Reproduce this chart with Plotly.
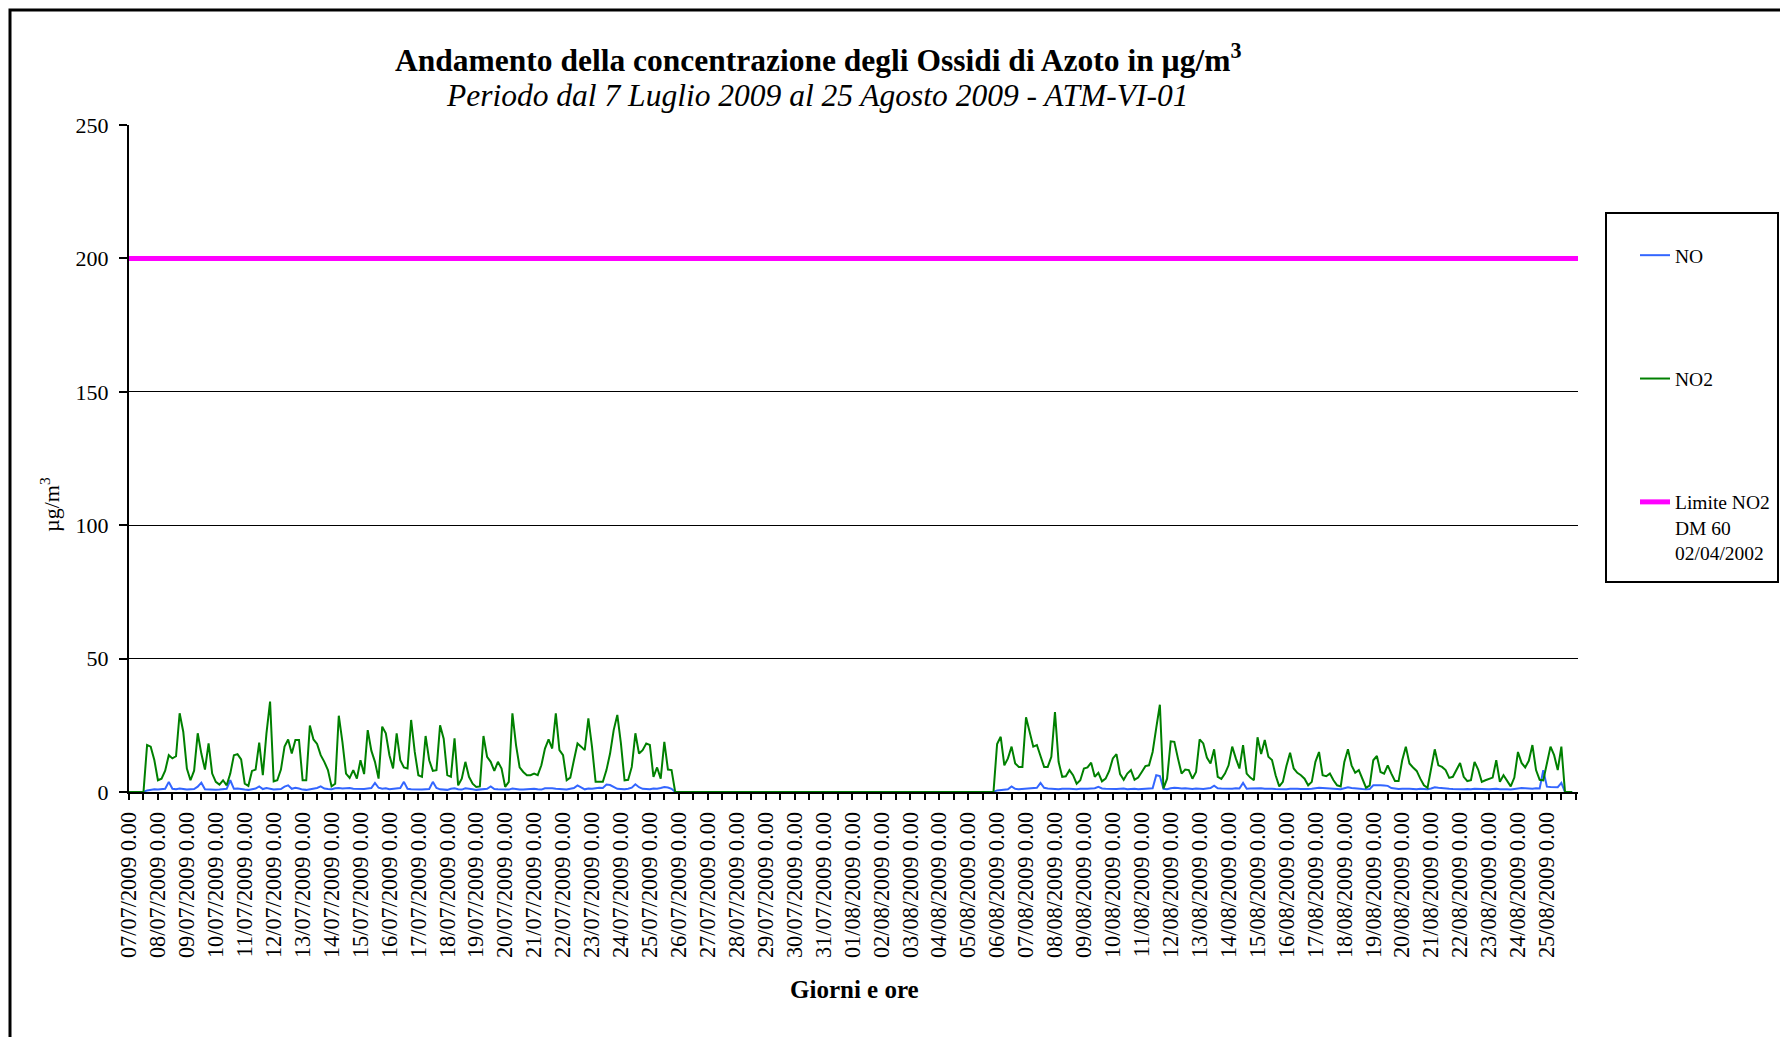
import pandas as pd
import plotly.graph_objects as go

# ---------------- data (µg/m3), one value every 3 hours from 07/07/2009 00:00 ----------------
START = "2009-07-07 00:00"
STEP = "3h"

# NO2: one row per day, 8 readings (00,03,06,09,12,15,18,21)
no2_ugm3 = [
    0, 0, 0, 0, 0, 17.6, 17, 12,            # 07/07
    4.4, 5, 8, 13.8, 12.6, 13.4, 29.5, 22.6,  # 08/07
    8.8, 4.4, 8, 22, 14.4, 8.4, 18.2, 6.9,    # 09/07
    3.8, 2.8, 4.4, 2.5, 6.9, 13.8, 14.2, 12.2,  # 10/07
    3.1, 2.3, 7.9, 8.4, 18.5, 6.3, 22, 33.9,  # 11/07
    4, 4.4, 8.4, 17, 19.7, 14.4, 19.5, 19.5,  # 12/07
    4.4, 4.4, 24.9, 19.7, 18, 13.8, 11.3, 8.2,  # 13/07
    2.1, 3.1, 28.6, 18.8, 6.9, 5.3, 8.2, 5,   # 14/07
    11.9, 6.7, 23.2, 15.5, 11.3, 5, 24.5, 22,  # 15/07
    13.8, 8.8, 22, 11.9, 9.2, 8.8, 27, 15,    # 16/07
    6.3, 5.7, 21, 11.9, 7.9, 8.2, 25, 20,     # 17/07
    6.3, 5.7, 20.1, 2.5, 5, 11.3, 5.7, 3.1,   # 18/07
    1.9, 2.1, 21, 13.2, 11.3, 7.9, 11.3, 8.8,  # 19/07
    1.9, 3.8, 29.5, 17.6, 9.2, 7.5, 6.3, 6.3,  # 20/07
    6.9, 6.3, 10, 16.3, 19.7, 16.3, 29.5, 15.7,  # 21/07
    13.8, 4.4, 5.4, 11.9, 18.2, 17, 15.7, 27.6,  # 22/07
    17, 3.8, 3.8, 3.8, 8.2, 14.4, 23.2, 28.9,  # 23/07
    18.2, 4.4, 4.6, 9.4, 22, 14.4, 15.7, 18.2,  # 24/07
    17.6, 5.7, 9.2, 5, 18.8, 8.4, 8.2, 0,     # 25/07
    0, 0, 0, 0, 0, 0, 0, 0,                   # 26/07
    0, 0, 0, 0, 0, 0, 0, 0,                   # 27/07
    0, 0, 0, 0, 0, 0, 0, 0,                   # 28/07
    0, 0, 0, 0, 0, 0, 0, 0,                   # 29/07
    0, 0, 0, 0, 0, 0, 0, 0,                   # 30/07
    0, 0, 0, 0, 0, 0, 0, 0,                   # 31/07
    0, 0, 0, 0, 0, 0, 0, 0,                   # 01/08
    0, 0, 0, 0, 0, 0, 0, 0,                   # 02/08
    0, 0, 0, 0, 0, 0, 0, 0,                   # 03/08
    0, 0, 0, 0, 0, 0, 0, 0,                   # 04/08
    0, 0, 0, 0, 0, 0, 0, 0,                   # 05/08
    18, 20.7, 10, 12.6, 17, 10.7, 9.4, 9.4,   # 06/08
    28, 22.6, 17, 17.6, 13.8, 9.4, 9.4, 13.2,  # 07/08
    30, 11.3, 5.7, 5.9, 8.2, 6.3, 3.1, 4.4,   # 08/08
    8.8, 9.2, 11, 5.7, 7.2, 4, 5, 7.9,        # 09/08
    12.6, 14.2, 6.7, 4.6, 6.9, 8.2, 4.6, 5.4,  # 10/08
    7.5, 9.7, 10, 15, 24, 32.7, 1.3, 5,       # 11/08
    19, 18.8, 12.6, 6.9, 8.4, 8.2, 5, 7.5,    # 12/08
    19.7, 18.2, 12.9, 10.7, 16, 5.7, 4.9, 6.9,  # 13/08
    10, 17, 12.6, 8.8, 17.6, 6.9, 5.4, 4.4,   # 14/08
    20.5, 14.2, 19.5, 13.2, 12, 6.3, 2.1, 3.8,  # 15/08
    9.8, 14.7, 8.8, 7.2, 6.3, 5, 2.5, 3.8,    # 16/08
    11.3, 15, 6.3, 5.9, 6.9, 4.4, 2.5, 2.1,   # 17/08
    11.3, 16, 10, 7.2, 8.2, 4.6, 1.6, 2.4,    # 18/08
    11.9, 13.5, 7.5, 6.9, 10, 6.9, 4.1, 4.1,  # 19/08
    11.9, 17, 10.7, 9.2, 7.9, 5, 2.5, 1.6,    # 20/08
    9.4, 16, 10, 9.4, 8.2, 5.3, 5.7, 8.2,     # 21/08
    10.9, 5.7, 4.1, 4.4, 11.3, 8.4, 3.8, 4.4,  # 22/08
    5, 5.4, 11.9, 3.8, 6.3, 4.1, 2.1, 5.4,    # 23/08
    15, 10.9, 9.2, 11.7, 17.6, 8.2, 4.6, 4.4,  # 24/08
    11, 17, 13.8, 8.2, 17, 0, 0, 0,           # 25/08
]

# NO: same sampling
no_ugm3 = [
    0, 0, 0, 0, 0, 0.6, 0.8, 1.0,             # 07/07
    0.9, 1.0, 1.2, 3.8, 1.2, 1.0, 1.3, 1.1,   # 08/07
    0.9, 1.0, 1.1, 2.0, 3.5, 1.0, 0.9, 1.0,   # 09/07
    0.8, 0.9, 1.0, 1.2, 4.4, 1.2, 1.3, 1.0,   # 10/07
    0.9, 0.8, 1.1, 1.3, 2.1, 1.1, 1.5, 1.2,   # 11/07
    0.9, 1.0, 1.1, 2.0, 2.5, 1.2, 1.6, 1.3,   # 12/07
    0.9, 0.8, 1.0, 1.2, 1.5, 2.1, 1.3, 1.1,   # 13/07
    1.0, 1.4, 1.5, 1.3, 1.4, 1.5, 1.2, 1.1,   # 14/07
    1.0, 1.1, 1.3, 1.5, 3.4, 1.6, 1.2, 1.4,   # 15/07
    1.0, 1.2, 1.3, 1.5, 3.8, 1.2, 1.0, 0.9,   # 16/07
    0.8, 0.9, 1.0, 1.1, 3.8, 1.5, 1.0, 0.9,   # 17/07
    0.8, 1.2, 1.4, 1.0, 0.9, 1.4, 1.3, 1.0,   # 18/07
    0.8, 0.9, 1.0, 1.2, 2.1, 1.1, 1.0, 0.9,   # 19/07
    0.8, 0.9, 1.3, 1.0, 0.9, 0.9, 1.0, 1.1,   # 20/07
    1.2, 1.0, 0.9, 1.4, 1.5, 1.4, 1.2, 1.1,   # 21/07
    1.0, 0.9, 1.2, 1.5, 2.5, 1.8, 1.0, 1.3,   # 22/07
    1.2, 1.4, 1.6, 1.5, 2.8, 2.6, 1.8, 1.2,   # 23/07
    1.1, 1.0, 1.2, 1.6, 2.9, 1.8, 1.2, 1.1,   # 24/07
    1.0, 1.3, 1.2, 1.5, 1.9, 1.7, 1.2, 0,     # 25/07
    0, 0, 0, 0, 0, 0, 0, 0,                   # 26/07
    0, 0, 0, 0, 0, 0, 0, 0,                   # 27/07
    0, 0, 0, 0, 0, 0, 0, 0,                   # 28/07
    0, 0, 0, 0, 0, 0, 0, 0,                   # 29/07
    0, 0, 0, 0, 0, 0, 0, 0,                   # 30/07
    0, 0, 0, 0, 0, 0, 0, 0,                   # 31/07
    0, 0, 0, 0, 0, 0, 0, 0,                   # 01/08
    0, 0, 0, 0, 0, 0, 0, 0,                   # 02/08
    0, 0, 0, 0, 0, 0, 0, 0,                   # 03/08
    0, 0, 0, 0, 0, 0, 0, 0,                   # 04/08
    0, 0, 0, 0, 0, 0, 0, 0,                   # 05/08
    0.6, 0.8, 0.9, 1.0, 2.1, 1.2, 1.0, 1.1,   # 06/08
    1.2, 1.3, 1.4, 1.6, 3.4, 1.6, 1.3, 1.2,   # 07/08
    1.1, 1.0, 1.2, 1.3, 1.2, 1.1, 1.0, 1.2,   # 08/08
    1.1, 1.2, 1.3, 1.4, 1.9, 1.3, 1.2, 1.1,   # 09/08
    1.0, 1.1, 1.2, 1.3, 1.0, 1.1, 1.2, 1.0,   # 10/08
    1.1, 1.2, 1.3, 1.4, 6.3, 6.0, 1.2, 1.0,   # 11/08
    1.4, 1.6, 1.5, 1.3, 1.4, 1.2, 1.1, 1.3,   # 12/08
    1.2, 1.1, 1.3, 1.5, 2.4, 1.4, 1.3, 1.2,   # 13/08
    1.1, 1.2, 1.4, 1.3, 3.4, 1.2, 1.3, 1.4,   # 14/08
    1.5, 1.4, 1.2, 1.3, 1.2, 1.1, 1.0, 1.1,   # 15/08
    1.0, 1.2, 1.3, 1.2, 1.1, 1.0, 1.1, 1.2,   # 16/08
    1.5, 1.6, 1.5, 1.4, 1.5, 1.2, 1.1, 1.0,   # 17/08
    1.4, 1.8, 1.5, 1.3, 1.2, 1.1, 1.0, 1.1,   # 18/08
    2.5, 2.6, 2.5, 2.4, 2.3, 1.5, 1.2, 1.1,   # 19/08
    1.2, 1.3, 1.2, 1.1, 1.0, 1.2, 1.1, 1.0,   # 20/08
    1.3, 1.8, 1.6, 1.4, 1.3, 1.2, 1.1, 1.0,   # 21/08
    1.1, 1.0, 1.1, 1.0, 1.2, 1.1, 1.0, 1.1,   # 22/08
    1.0, 1.1, 1.2, 1.0, 1.1, 1.0, 0.9, 1.1,   # 23/08
    1.4, 1.5, 1.4, 1.3, 1.2, 1.4, 1.3, 8.2,   # 24/08
    2.0, 1.9, 1.9, 1.8, 3.4, 0, 0, 0,         # 25/08
]

limite_no2 = 200  # DM 60 02/04/2002

series_names = ["NO", "NO2", "Limite NO2<br>DM 60<br>02/04/2002"]
y_ticks = [0, 50, 100, 150, 200, 250]
day_ticks = pd.date_range("2009-07-07", "2009-08-25", freq="D")
day_labels = [d.strftime("%d/%m/%Y") + " 0.00" for d in day_ticks]

# ---------------- figure ----------------
times = pd.date_range(START, periods=len(no2_ugm3), freq=STEP)
X_END = "2009-08-26 01:48"
FONT = "Liberation Serif, Times New Roman, serif"

fig = go.Figure()
fig.add_trace(go.Scatter(x=times, y=no_ugm3, mode="lines", name=series_names[0],
                         legendgroup="g1", line=dict(color="#3366FF", width=2)))
fig.add_trace(go.Scatter(x=times, y=no2_ugm3, mode="lines", name=series_names[1],
                         legendgroup="g2", line=dict(color="#008000", width=2)))
fig.add_trace(go.Scatter(x=[times[0], X_END], y=[limite_no2, limite_no2], mode="lines",
                         name=series_names[2], legendgroup="g3",
                         line=dict(color="#FF00FF", width=5)))

L, R, T, B = 129, 202, 125, 245
W, H = 1780, 1037
PW, PH = W - L - R, H - T - B


def px(x):
    return (x - L) / PW


def py(y):
    return (H - B - y) / PH


fig.update_layout(
    width=W, height=H, autosize=False,
    margin=dict(l=L, r=R, t=T, b=B, autoexpand=False),
    paper_bgcolor="white", plot_bgcolor="white",
    font=dict(family=FONT, color="black"),
    showlegend=True,
    legend=dict(x=px(1635), y=py(236), xanchor="left", yanchor="top",
                bgcolor="rgba(0,0,0,0)", borderwidth=0,
                font=dict(family=FONT, size=19.5, color="black"),
                traceorder="grouped", tracegroupgap=95, valign="top"),
    xaxis=dict(type="date", range=[START, X_END], tickmode="array",
               tickvals=day_ticks, ticktext=day_labels, tickangle=-90,
               tickfont=dict(family=FONT, size=22.3, color="black"),
               ticks="outside", ticklen=6, tickwidth=1.5, tickcolor="black",
               ticklabelstandoff=3,
               minor=dict(dtick=12 * 3600 * 1000, ticks="outside", ticklen=6,
                          tickwidth=1.5, tickcolor="black", showgrid=False),
               showline=True, linecolor="black", linewidth=2,
               showgrid=False, zeroline=False, automargin=False),
    yaxis=dict(range=[0, 250], tickmode="array", tickvals=y_ticks,
               tickfont=dict(family=FONT, size=22, color="black"),
               ticks="outside", ticklen=8, tickwidth=1.5, tickcolor="black",
               ticklabelstandoff=6,
               showline=True, linecolor="black", linewidth=2,
               showgrid=True, gridcolor="black", gridwidth=1.3,
               zeroline=False, automargin=False),
    shapes=[
        dict(type="rect", xref="paper", yref="paper",
             x0=px(10), x1=px(1800), y0=py(1060), y1=py(10),
             line=dict(color="black", width=3), fillcolor="rgba(0,0,0,0)", layer="below"),
        dict(type="rect", xref="paper", yref="paper",
             x0=px(1606), x1=px(1778), y0=py(582), y1=py(213),
             line=dict(color="black", width=2), fillcolor="rgba(0,0,0,0)"),
    ],
    annotations=[
        dict(text="<b>Andamento della concentrazione degli Ossidi di Azoto in µg/m<sup>3</sup></b>",
             xref="paper", yref="paper", x=px(818), y=py(58), xanchor="center", yanchor="middle",
             showarrow=False, font=dict(family=FONT, size=31.5, color="black")),
        dict(text="<i>Periodo dal 7 Luglio 2009 al 25 Agosto 2009 - ATM-VI-01</i>",
             xref="paper", yref="paper", x=px(817), y=py(95), xanchor="center", yanchor="middle",
             showarrow=False, font=dict(family=FONT, size=31.5, color="black")),
        dict(text="µg/m<sup>3</sup>", textangle=-90,
             xref="paper", yref="paper", x=px(50), y=py(505), xanchor="center", yanchor="middle",
             showarrow=False, font=dict(family=FONT, size=22, color="black")),
        dict(text="<b>Giorni e ore</b>",
             xref="paper", yref="paper", x=px(854), y=py(990), xanchor="center", yanchor="middle",
             showarrow=False, font=dict(family=FONT, size=25, color="black")),
    ],
)

fig.write_html("out.html",
               config={"responsive": False, "displayModeBar": False},
               post_script="document.body.style.margin='0px';document.body.style.overflow='hidden';")
